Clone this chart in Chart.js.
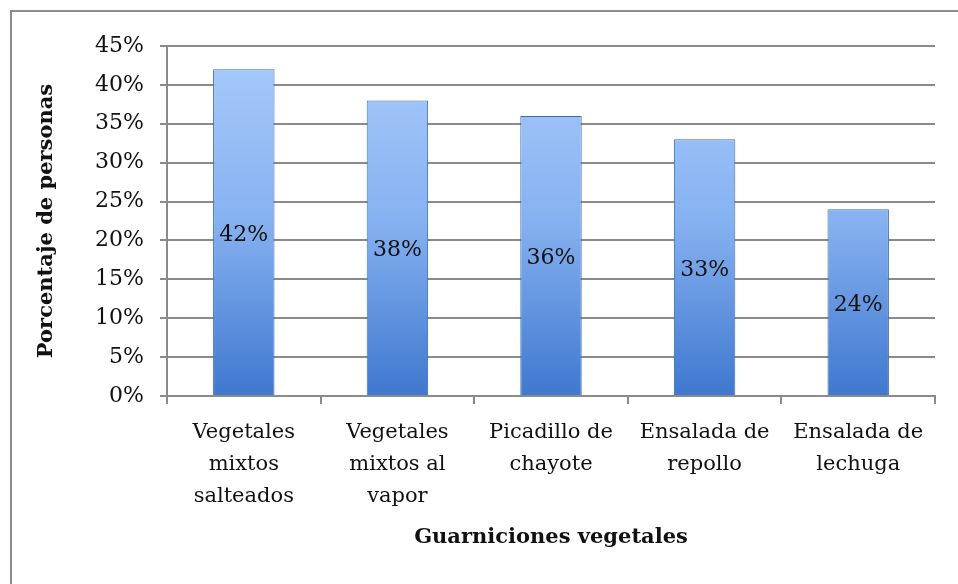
<!DOCTYPE html>
<html>
<head>
<meta charset="utf-8">
<script src="https://cdn.jsdelivr.net/npm/chart.js@4/dist/chart.umd.min.js"></script>
<style>
  html, body { margin: 0; padding: 0; background: #fff; }
  #wrap { position: relative; width: 958px; height: 584px; }
</style>
</head>
<body>
<div id="wrap"><canvas id="chart" width="958" height="584"></canvas></div>
<script>
// categories (x axis) and values in percent
const categories = [
  ['Vegetales', 'mixtos', 'salteados'],
  ['Vegetales', 'mixtos al', 'vapor'],
  ['Picadillo de', 'chayote'],
  ['Ensalada de', 'repollo'],
  ['Ensalada de', 'lechuga']
];
const values = [42, 38, 36, 33, 24];
const yTicks = [0, 5, 10, 15, 20, 25, 30, 35, 40, 45];

const FONT = '"DejaVu Serif", "Liberation Serif", serif';
const GRID = '#8a8a8a';

// blue vertical gradient for the bars
function barFill(ctx) {
  const area = ctx.chart.chartArea;
  if (!area) return '#7aa8ec';
  const g = ctx.chart.ctx.createLinearGradient(0, area.top, 0, area.bottom);
  g.addColorStop(0, '#a9cbfb');
  g.addColorStop(0.5, '#86b1f0');
  g.addColorStop(1, '#3f78cf');
  return g;
}

// frame around the chart (only top and left visible in the picture)
const framePlugin = {
  id: 'frame',
  beforeDraw(chart) {
    const c = chart.ctx;
    c.save();
    c.strokeStyle = '#8c8c8c';
    c.lineWidth = 2;
    c.beginPath();
    c.moveTo(11, 600);
    c.lineTo(11, 11);
    c.lineTo(1000, 11);
    c.stroke();
    c.restore();
  }
};

// value labels in the middle of each bar
const labelPlugin = {
  id: 'barLabels',
  afterDatasetsDraw(chart) {
    const c = chart.ctx;
    const meta = chart.getDatasetMeta(0);
    c.save();
    c.font = '22px ' + FONT;
    c.fillStyle = '#111';
    c.textAlign = 'center';
    c.textBaseline = 'middle';
    meta.data.forEach((bar, i) => {
      const mid = (bar.y + bar.base) / 2 + 3;
      c.fillText(values[i] + '%', bar.x, mid);
    });
    c.restore();
  }
};

new Chart(document.getElementById('chart'), {
  type: 'bar',
  data: {
    labels: categories,
    datasets: [{
      data: values,
      backgroundColor: barFill,
      borderColor: '#3a6db5',
      borderWidth: 1,
      categoryPercentage: 0.8,
      barPercentage: 0.5
    }]
  },
  options: {
    responsive: false,
    animation: false,
    layout: { padding: { top: 46, right: 23, left: 30, bottom: 30 } },
    plugins: { legend: { display: false }, tooltip: { enabled: false } },
    scales: {
      x: {
        offset: true,
        grid: { offset: true, drawOnChartArea: false, color: GRID, lineWidth: 2, tickLength: 8 },
        border: { color: GRID, width: 2 },
        ticks: { color: '#111', font: { family: FONT, size: 21, lineHeight: 1.52 }, maxRotation: 0, padding: 13 },
        title: { display: true, text: 'Guarniciones vegetales', color: '#111',
                 font: { family: FONT, size: 21, weight: 'bold' }, padding: { top: 18 } },
        afterFit(s) { s.height = 158; }
      },
      y: {
        min: 0, max: 45,
        afterBuildTicks(s) { s.ticks = yTicks.map(v => ({ value: v })); },
        grid: { color: GRID, lineWidth: 2, tickLength: 7 },
        border: { color: GRID, width: 2 },
        ticks: { color: '#111', font: { family: FONT, size: 22 }, padding: 16,
                 callback: v => v + '%' },
        title: { display: true, text: 'Porcentaje de personas', color: '#111',
                 font: { family: FONT, size: 21, weight: 'bold' } },
        afterFit(s) { s.width = 137; }
      }
    }
  },
  plugins: [framePlugin, labelPlugin]
});
</script>
</body>
</html>
